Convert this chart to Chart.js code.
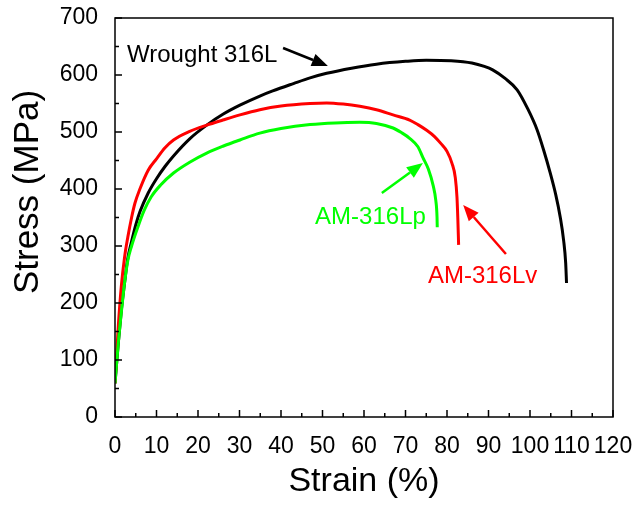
<!DOCTYPE html>
<html>
<head>
<meta charset="utf-8">
<script src="https://cdn.jsdelivr.net/npm/chart.js@4.4.1/dist/chart.umd.min.js"></script>
<style>
  html, body { margin: 0; padding: 0; background: #ffffff; }
  #wrap { width: 634px; height: 506px; }
</style>
</head>
<body>
<div id="wrap"><canvas id="c" width="634" height="506"></canvas></div>
<script>
// ---- data (strain %, stress MPa) ----
const wroughtStrain = [0, 0.8, 1.5, 2.3, 3, 4, 5, 6, 8, 10, 12, 14.1, 18, 22.1, 26, 30.1, 34.9, 38, 43, 47, 51, 57, 63, 70, 75, 81, 86, 89, 91, 94, 96.9, 99.5, 101.7, 103.3, 104.8, 106.2, 107.3, 108.1, 108.6, 108.8];
const wroughtStress = [59, 130, 185, 235, 275, 308, 337, 360, 393, 418, 439, 458, 488, 512, 531, 547, 563, 572, 585, 595, 603, 612, 619, 624, 626, 625, 621, 615, 609, 594, 574, 540, 504, 468, 430, 390, 350, 310, 270, 235];

const amLvStrain = [0, 0.8, 1.5, 2.3, 3.1, 4, 4.8, 6, 8, 10, 12, 14.1, 18, 22.1, 26, 30.1, 34.9, 40, 47, 51, 55, 59, 63, 67, 71, 73, 75.1, 77, 78.5, 80, 81.2, 82, 82.4, 82.6, 82.8];
const amLvStress = [59, 160, 228, 280, 316, 350, 375, 400, 433, 453, 472, 486, 501, 512, 521, 530, 539, 545.5, 550, 551, 549, 545, 539, 530, 521, 513, 503, 492, 480, 466, 445, 420, 386, 350, 302];

const amLpStrain = [0, 0.8, 1.5, 2.3, 3.1, 4, 5.5, 7, 8.7, 11, 14.1, 18, 22.1, 26, 30.1, 34.9, 40, 47, 53, 59, 63, 67, 69, 71, 73, 74.2, 75.5, 76.7, 77.3, 77.6, 77.65];
const amLpStress = [59, 130, 182, 235, 275, 300, 333, 362, 386, 407, 428, 447, 463, 475, 486, 498, 506, 513, 516, 517, 515, 507, 499, 489, 474, 455, 435, 405, 380, 350, 333];

const seriesNames = ['Wrought 316L', 'AM-316Lv', 'AM-316Lp'];
const xTickValues = [0, 10, 20, 30, 40, 50, 60, 70, 80, 90, 100, 110, 120];
const yTickValues = [0, 100, 200, 300, 400, 500, 600, 700];

// annotation labels: [text, anchor strain, anchor stress]
const labelWrought = ['Wrought 316L', 2.9, 623];
const labelLp = ['AM-316Lp', 74.9, 338.6];
const labelLv = ['AM-316Lv', 75.4, 235];
// arrows: [tailStrain, tailStress, tipStrain, tipStress]
const arrowWrought = [40.5, 647.4, 51.3, 615.8];
const arrowLp = [64.3, 393, 74.2, 445.6];
const arrowLv = [94.2, 286, 83.9, 372];

const FONT = '"Liberation Sans", Arial, Helvetica, sans-serif';
const GREEN = '#00ff00', RED = '#ff0000', BLACK = '#000000';

function pts(xs, ys) { return xs.map((x, i) => ({ x: x, y: ys[i] })); }

const annotatePlugin = {
  id: 'annotate',
  afterDatasetsDraw(chart) {
    const ctx = chart.ctx;
    const xs = chart.scales.x, ys = chart.scales.y;
    const a = chart.chartArea;
    ctx.save();
    // frame
    ctx.strokeStyle = '#000';
    ctx.lineWidth = 1.5;
    ctx.strokeRect(a.left, a.top, a.right - a.left, a.bottom - a.top);
    // inward ticks (major + minor)
    ctx.beginPath();
    for (let i = 0; i < xTickValues.length; i++) {
      const px = xs.getPixelForValue(xTickValues[i]);
      ctx.moveTo(px, a.bottom); ctx.lineTo(px, a.bottom - 7);
      if (i < xTickValues.length - 1) {
        const pm = xs.getPixelForValue((xTickValues[i] + xTickValues[i + 1]) / 2);
        ctx.moveTo(pm, a.bottom); ctx.lineTo(pm, a.bottom - 4);
      }
    }
    for (let i = 0; i < yTickValues.length; i++) {
      const py = ys.getPixelForValue(yTickValues[i]);
      ctx.moveTo(a.left, py); ctx.lineTo(a.left + 7, py);
      if (i < yTickValues.length - 1) {
        const pm = ys.getPixelForValue((yTickValues[i] + yTickValues[i + 1]) / 2);
        ctx.moveTo(a.left, pm); ctx.lineTo(a.left + 4, pm);
      }
    }
    ctx.stroke();

    // labels
    ctx.font = '24px ' + FONT;
    ctx.textBaseline = 'alphabetic';
    ctx.fillStyle = BLACK;
    ctx.textAlign = 'left';
    ctx.fillText(labelWrought[0], xs.getPixelForValue(labelWrought[1]), ys.getPixelForValue(labelWrought[2]));
    ctx.fillStyle = GREEN;
    ctx.textAlign = 'right';
    ctx.fillText(labelLp[0], xs.getPixelForValue(labelLp[1]), ys.getPixelForValue(labelLp[2]));
    ctx.fillStyle = RED;
    ctx.textAlign = 'left';
    ctx.fillText(labelLv[0], xs.getPixelForValue(labelLv[1]), ys.getPixelForValue(labelLv[2]));

    function arrow(arr, color) {
      const x1 = xs.getPixelForValue(arr[0]), y1 = ys.getPixelForValue(arr[1]);
      const x2 = xs.getPixelForValue(arr[2]), y2 = ys.getPixelForValue(arr[3]);
      const ang = Math.atan2(y2 - y1, x2 - x1);
      const hl = 16, hw = 6.5;
      const bx = x2 - hl * Math.cos(ang), by = y2 - hl * Math.sin(ang);
      ctx.strokeStyle = color; ctx.fillStyle = color;
      ctx.lineWidth = 2.5;
      ctx.beginPath(); ctx.moveTo(x1, y1); ctx.lineTo(bx, by); ctx.stroke();
      ctx.beginPath();
      ctx.moveTo(x2, y2);
      ctx.lineTo(bx + hw * Math.sin(ang), by - hw * Math.cos(ang));
      ctx.lineTo(bx - hw * Math.sin(ang), by + hw * Math.cos(ang));
      ctx.closePath(); ctx.fill();
    }
    arrow(arrowWrought, BLACK);
    arrow(arrowLp, GREEN);
    arrow(arrowLv, RED);

    // y axis title
    ctx.fillStyle = '#000';
    ctx.font = '35px ' + FONT;
    ctx.textAlign = 'center';
    ctx.textBaseline = 'middle';
    ctx.translate(28.5, 192);
    ctx.rotate(-Math.PI / 2);
    ctx.fillText('Stress (MPa)', 0, 0);
    ctx.restore();
  }
};

const lineStyle = { showLine: true, borderWidth: 3, pointRadius: 0, cubicInterpolationMode: 'monotone' };

new Chart(document.getElementById('c'), {
  type: 'scatter',
  data: {
    datasets: [
      Object.assign({ label: seriesNames[2], data: pts(amLpStrain, amLpStress), borderColor: GREEN, backgroundColor: GREEN }, lineStyle),
      Object.assign({ label: seriesNames[1], data: pts(amLvStrain, amLvStress), borderColor: RED, backgroundColor: RED }, lineStyle),
      Object.assign({ label: seriesNames[0], data: pts(wroughtStrain, wroughtStress), borderColor: BLACK, backgroundColor: BLACK }, lineStyle)
    ]
  },
  options: {
    responsive: false,
    animation: false,
    devicePixelRatio: 1,
    layout: { padding: { left: 0, right: 21, top: 18, bottom: 0 } },
    plugins: { legend: { display: false }, tooltip: { enabled: false }, title: { display: false } },
    scales: {
      x: {
        type: 'linear', min: 0, max: 120,
        afterBuildTicks: s => { s.ticks = xTickValues.map(v => ({ value: v })); },
        afterFit: s => { s.height = 89; s.paddingLeft = 0; s.paddingRight = 0; },
        grid: { display: false },
        border: { display: false },
        ticks: { color: '#000', font: { family: FONT, size: 23 }, padding: 8, maxRotation: 0, autoSkip: false },
        title: { display: true, text: 'Strain (%)', color: '#000', font: { family: FONT, size: 34 }, padding: { top: 0, bottom: 4 } }
      },
      y: {
        type: 'linear', min: 0, max: 700,
        afterBuildTicks: s => { s.ticks = yTickValues.map(v => ({ value: v })); },
        afterFit: s => { s.width = 115; s.paddingTop = 0; s.paddingBottom = 0; },
        grid: { display: false },
        border: { display: false },
        ticks: { color: '#000', font: { family: FONT, size: 23 }, padding: 9, autoSkip: false },
        title: { display: false }
      }
    }
  },
  plugins: [annotatePlugin]
});
</script>
</body>
</html>
